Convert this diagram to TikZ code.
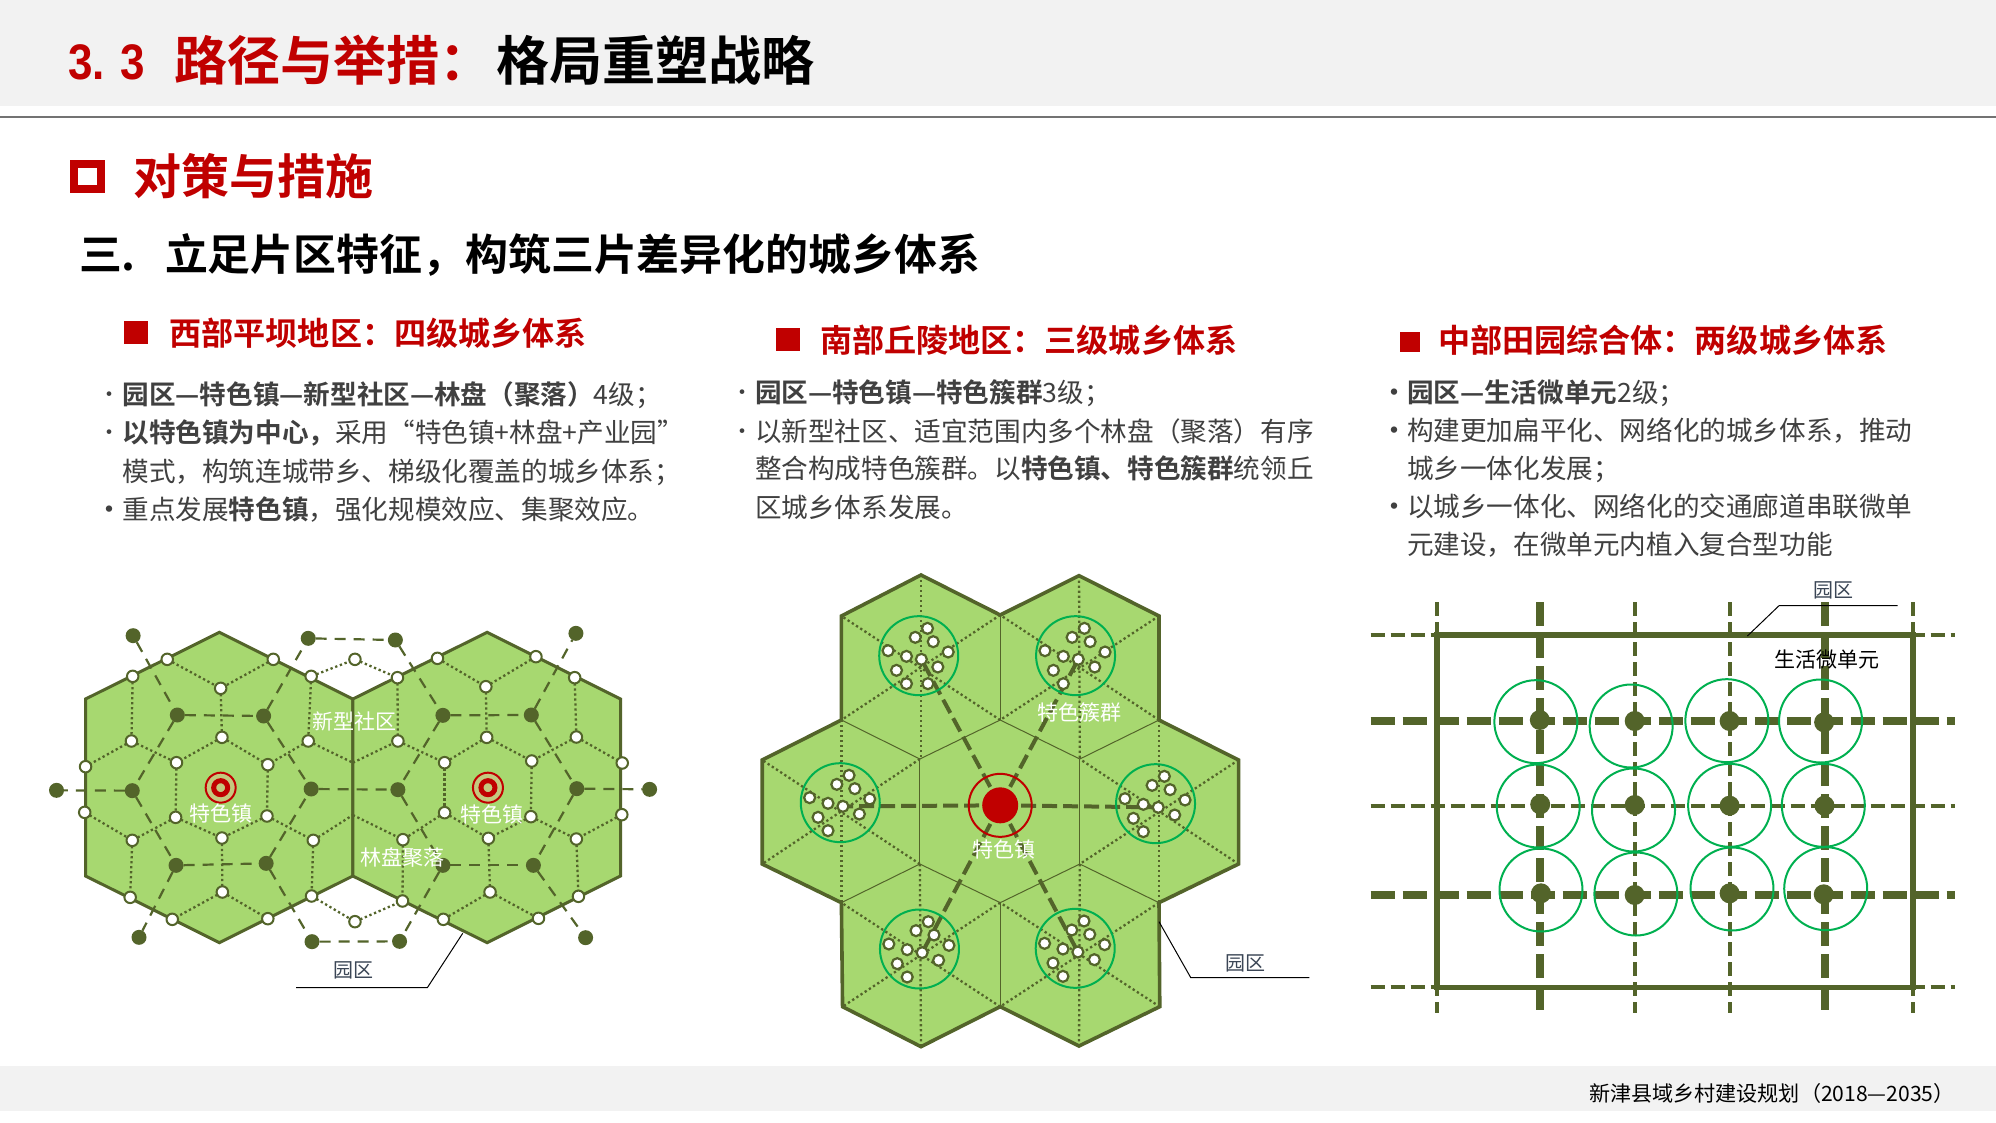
\documentclass[tikz,border=0pt]{standalone}
\usepackage{fontspec}
\setmainfont{Noto Sans CJK SC}[BoldFont=Noto Sans CJK SC Bold]
\newfontfamily\latinb{Liberation Sans}[BoldFont=Liberation Sans Bold,FakeStretch=0.88]
\usetikzlibrary{backgrounds}
\pgfdeclarelayer{hexl}
\pgfdeclarelayer{edgel}
\pgfsetlayers{hexl,edgel,main}
\definecolor{deepred}{HTML}{C00000}
\definecolor{oliveD}{HTML}{53642A}
\definecolor{hexfill}{HTML}{A7D870}
\definecolor{cgreen}{HTML}{00B050}
\definecolor{bandgray}{HTML}{F2F2F2}
\definecolor{bodygray}{HTML}{404040}
\definecolor{labgray}{HTML}{3B4656}
\definecolor{ringfill}{HTML}{C4C97F}
\tikzset{
 ft/.style={font=\fontsize{#1}{#1}\selectfont,text height=.88*#1 pt,text depth=.12*#1 pt,inner sep=0pt,outer sep=0pt},
 bodyt/.style={ft=26.6,anchor=west,text=bodygray},
 heads/.style={ft=32.1,anchor=west,text=deepred},
 bult/.style={ft=22,text=bodygray},
 bulb/.style={ft=30,text=bodygray},
 whitel/.style={ft=21,text=white},
 parkl/.style={ft=20,text=labgray},
 squaren/.style={fill=deepred,inner sep=0pt,outer sep=0pt},
 wn/.style={circle,fill=white,draw=oliveD,line width=2pt,minimum size=11.5pt,inner sep=0pt,outer sep=0pt},
 wm/.style={circle,fill=white,draw=oliveD,line width=2.2pt,minimum size=11pt,inner sep=0pt,outer sep=0pt},
 dn/.style={circle,fill=oliveD,minimum size=15pt,inner sep=0pt,outer sep=0pt},
 dg/.style={circle,fill=oliveD,minimum size=20pt,inner sep=0pt,outer sep=0pt},
 gcirc/.style={circle,draw=cgreen,line width=2pt,inner sep=0pt,outer sep=0pt},
 hexo/.style={draw=oliveD,fill=hexfill,line width=3pt,line join=miter},
 dotl/.style={draw=oliveD,line width=2.3pt,dash pattern=on 2.3pt off 2.7pt},
 dashl/.style={draw=oliveD,line width=2.2pt,dash pattern=on 11pt off 8pt},
 thinl/.style={draw=oliveD,line width=1pt},
 spoke/.style={draw=oliveD,line width=4pt,dash pattern=on 15pt off 6pt},
 roadthin/.style={draw=oliveD,line width=3.8pt,dash pattern=on 14pt off 6pt},
 roadthick/.style={draw=oliveD,line width=8pt,dash pattern=on 24pt off 8pt},
 leader/.style={draw=black,line width=1pt},
}
\begin{document}
\begin{tikzpicture}[x=1pt,y=-1pt]
\useasboundingbox (0,0) rectangle (1996,1122);
\begin{pgfonlayer}{hexl}
\fill[white] (0,0) rectangle (1996,1122);
\fill[bandgray] (0,0) rectangle (1996,106);
\fill[bandgray] (0,1066) rectangle (1996,1111);
\draw[draw=black!55,line width=1.6pt] (0,117) -- (1996,117);
\end{pgfonlayer}
% titles
\node[ft=50,anchor=west,text=deepred] (t33) at (68,60) {\latinb\bfseries 3.\kern4pt\ 3};
\node[ft=53.1,anchor=west,text=deepred] (tred) at (174,60) {\bfseries 路径与举措：};
\node[ft=53.1,anchor=west,text=black] (tblk) at (496,60) {\bfseries 格局重塑战略};
\node[draw=deepred,line width=8pt,minimum width=27pt,minimum height=25pt,inner sep=0pt,outer sep=0pt] (sqsec) at (87.5,176.5) {};
\node[ft=48,anchor=west,text=deepred] (sec) at (133,176) {\bfseries 对策与措施};
\node[ft=42.9,anchor=west,text=black] (san) at (79,254.5) {\bfseries 三.};
\node[ft=42.9,anchor=west,text=black] (sant) at (165,254.5) {\bfseries 立足片区特征，构筑三片差异化的城乡体系};
% column 1
\node[squaren,minimum width=23.6pt,minimum height=23.6pt] (s1) at (136.2,332.5) {};
\node[heads] (h1) at (169.5,333.5) {\bfseries 西部平坝地区：四级城乡体系};
\node[bult] (b11) at (109,394) {•};
\node[bult] (b12) at (109,432) {•};
\node[bulb] (b13) at (109,509) {•};
\node[bodyt] (l11) at (122.5,394) {\bfseries 园区—特色镇—新型社区—林盘（聚落）\mdseries 4级；};
\node[bodyt] (l12) at (122.5,432) {\bfseries 以特色镇为中心，\mdseries 采用“特色镇+林盘+产业园”};
\node[bodyt] (l13) at (122.5,471) {模式，构筑连城带乡、梯级化覆盖的城乡体系；};
\node[bodyt] (l14) at (122.5,509) {重点发展\bfseries 特色镇\mdseries ，强化规模效应、集聚效应。};
% column 2
\node[squaren,minimum width=24pt,minimum height=23.6pt] (s2) at (788,339.5) {};
\node[heads] (h2) at (820,340) {\bfseries 南部丘陵地区：三级城乡体系};
\node[bult] (b21) at (742,392) {•};
\node[bult] (b22) at (742,431) {•};
\node[bodyt] (l21) at (755,392) {\bfseries 园区—特色镇—特色簇群\mdseries 3级；};
\node[bodyt] (l22) at (755,431) {以新型社区、适宜范围内多个林盘（聚落）有序};
\node[bodyt] (l23) at (755,468) {整合构成特色簇群。以\bfseries 特色镇、特色簇群\mdseries 统领丘};
\node[bodyt] (l24) at (755,507) {区城乡体系发展。};
% column 3
\node[squaren,minimum width=20pt,minimum height=20pt] (s3) at (1410,341.7) {};
\node[heads] (h3) at (1438,340) {\bfseries 中部田园综合体：两级城乡体系};
\node[bulb] (b31) at (1394,392) {•};
\node[bulb] (b32) at (1394,430) {•};
\node[bulb] (b33) at (1394,506) {•};
\node[bodyt] (l31) at (1407,392) {\bfseries 园区—生活微单元\mdseries 2级；};
\node[bodyt] (l32) at (1407,430) {构建更加扁平化、网络化的城乡体系，推动};
\node[bodyt] (l33) at (1407,468) {城乡一体化发展；};
\node[bodyt] (l34) at (1407,506) {以城乡一体化、网络化的交通廊道串联微单};
\node[bodyt] (l35) at (1407,544) {元建设，在微单元内植入复合型功能};
% footer
\node[ft=21.1,anchor=west,text=black] (foot) at (1589,1093) {新津县域乡村建设规划（2018—2035）};

% ---------- panel 1
\begin{scope}[xshift=30pt,yshift=-600pt,x=0.42092pt,y=-0.33333pt]
\begin{pgfonlayer}{hexl}
\path[hexo] (450,97) -- (767,297) -- (767,828) -- (450,1028) -- (132,828) -- (132,297) -- cycle;
\path[hexo] (1086,97) -- (1403,297) -- (1403,828) -- (1086,1028) -- (767,828) -- (767,297) -- cycle;
\end{pgfonlayer}
\foreach \n/\x/\y in {a1/326/178,a2/578/178,a3/244/229,a4/668/229,a5/453/265,a6/241/423,a7/456/412,a8/661/423,a9/132/500,a10/348/488,a11/565/494,a12/130/637,a13/346/652,a14/563/648,a15/243/721,a16/456/714,a17/673/721,a18/238/892,a19/457/876,a20/669/888,a21/338/958,a22/565/956,b1/968/175,b2/1202/170,b3/873/233,b4/1294/233,b5/1083/260,b6/874/423,b7/1085/412,b8/1298/411,b9/1407/489,b10/985/488,b11/1192/483,b12/1406/644,b13/985/638,b14/1190/650,b15/886/719,b16/1089/715,b17/1298/717,b18/885/903,b19/1093/876,b20/1303/889,b21/982/958,b22/1208/955,t1/772/178,t2/772/965}
  \node[wn] (\n) at (\x,\y) {};
\foreach \n/\x/\y in {d1/245/107,d2/661/115,d3/868/120,d4/1297/100,d5/350/345,d6/555/348,d7/981/346,d8/1191/345,d9/63/571,d10/243/572,d11/668/567,d12/874/569,d13/1299/566,d14/1472/568,d15/347/796,d16/561/790,d17/981/796,d18/1196/796,d19/259/1012,d20/670/1025,d21/878/1024,d22/1320/1013}
  \node[dn] (\n) at (\x,\y) {};
\coordinate (m1) at (767,488);
\coordinate (m2) at (767,645);
\begin{pgfonlayer}{edgel}
\foreach \p/\q in {a1/a5,a2/a5,a5/a7,a3/a6,a4/a8,a6/a9,a6/a10,a7/a10,a7/a11,a8/a11,a10/a13,a11/a14,a12/a15,a13/a15,a13/a16,a14/a16,a14/a17,a15/a18,a16/a19,a17/a20,a19/a21,a19/a22,a8/m1,m1/b6,a17/m2,m2/b15,a4/t1,t1/b3,a20/t2,t2/b18,b1/b5,b2/b5,b5/b7,b3/b6,b4/b8,b6/b10,b7/b10,b7/b11,b8/b11,b8/b9,b10/b13,b11/b14,b12/b17,b13/b15,b13/b16,b14/b16,b14/b17,b15/b18,b16/b19,b17/b20,b19/b21,b19/b22}
  \draw[dotl] (\p) -- (\q);
\foreach \p/\q in {d1/d5,d5/d6,d5/d10,d10/d9,d10/d15,d15/d16,d15/d19,d16/d11,d16/d20,d6/d2,d6/d11,d2/d3,d3/d7,d7/d8,d7/d12,d11/d12,d12/d17,d17/d18,d17/d21,d20/d21,d8/d4,d8/d13,d13/d14,d13/d18,d18/d22}
  \draw[dashl] (\p) -- (\q);
\end{pgfonlayer}
\foreach \i/\x in {A/453,B/1088}{
  \node[circle,draw=deepred,line width=2pt,fill=ringfill,minimum size=30pt,inner sep=0pt] (bo\i) at (\x,563) {};
  \node[circle,draw=deepred,line width=5pt,fill=ringfill,minimum size=14pt,inner sep=0pt] (bi\i) at (\x,563) {};
}
\node[whitel] (lz1) at (453,640) {特色镇};
\node[whitel] (lz2) at (1097,645) {特色镇};
\node[whitel] (lx) at (772,365) {新型社区};
\node[whitel] (ll) at (885,773) {林盘聚落};
\node[parkl] (lp1) at (768,1110) {园区};
\coordinate (p1a) at (1028,1000);
\coordinate (p1b) at (944,1163);
\coordinate (p1c) at (632,1163);
\draw[leader] (p1a) -- (p1b) -- (p1c);
\end{scope}

% ---------- panel 2
\begin{scope}[xshift=740pt,yshift=-560pt,x=0.38265pt,y=-0.33333pt]
\begin{pgfonlayer}{hexl}
\fill[hexfill] (473,45) -- (680,165) -- (886,47) -- (1095,168) -- (1095,480) -- (1303,600) -- (1303,912) -- (1095,1028) -- (1097,1340) -- (886,1458) -- (680,1340) -- (473,1460) -- (268,1340) -- (265,1028) -- (58,912) -- (58,600) -- (265,480) -- (265,168) -- cycle;
\foreach \a/\b/\c/\d in {473/45/473/597,680/165/265/480,680/480/265/168,886/47/888/597,1095/168/680/480,1095/480/680/165,1095/480/1095/1028,1303/600/888/912,1303/912/888/597,265/480/265/1028,470/597/58/912,470/912/58/600,470/912/473/1460,680/1028/268/1340,680/1340/265/1028,888/912/886/1458,1095/1028/680/1340,1097/1340/680/1028}
  \draw[dotl] (\a,\b) -- (\c,\d);
\foreach \a/\b/\c/\d in {680/165/680/480,680/480/470/597,680/480/888/597,470/597/265/480,888/597/1095/480,470/597/470/912,888/597/888/912,470/912/265/1028,888/912/1095/1028,470/912/680/1028,888/912/680/1028,680/1028/680/1340}
  \draw[thinl] (\a,\b) -- (\c,\d);
\draw[draw=oliveD,line width=3.6pt,line join=miter] (473,45) -- (680,165) -- (886,47) -- (1095,168) -- (1095,480) -- (1303,600) -- (1303,912) -- (1095,1028) -- (1097,1340) -- (886,1458) -- (680,1340) -- (473,1460) -- (268,1340) -- (265,1028) -- (58,912) -- (58,600) -- (265,480) -- (265,168) -- cycle;
\end{pgfonlayer}
\node[circle,fill=deepred,minimum size=36pt,inner sep=0pt] (cc) at (680,736) {};
\node[circle,draw=deepred,line width=2pt,minimum size=63pt,inner sep=0pt] (cr) at (680,736) {};
\foreach \c/\cx/\cy in {A/467/287,B/877/287,C/262/728,D/1086/731,E/469/1167,F/876/1165}{
  \node[gcirc,minimum size=79pt] (g\c) at (\cx,\cy) {};
  \foreach \i/\dx/\dy in {1/23/-82,2/-9/-55,3/38/-42,4/-80/-15,5/77/-11,6/-32/2,7/7/11,8/50/34,9/-58/44,10/-32/84}
    \node[wm] (n\c\i) at ({\cx+\dx},{\cy+\dy}) {};
}
\node[wm] (nA11) at (491,371) {};
\begin{pgfonlayer}{edgel}
\foreach \q in {A,B,C,D,E,F}
  \draw[spoke] (cc.center) -- (n\q7);
\end{pgfonlayer}
\node[whitel] (l2a) at (888,458) {特色簇群};
\node[whitel] (l2b) at (690,870) {特色镇};
\node[parkl] (l2c) at (1320,1208) {园区};
\coordinate (p2a) at (1095,1085);
\coordinate (p2b) at (1178,1253);
\coordinate (p2c) at (1488,1253);
\draw[leader] (p2a) -- (p2b) -- (p2c);
\end{scope}

% ---------- panel 3
\begin{scope}[xshift=1350pt,yshift=-570pt,x=0.39541pt,y=-0.33333pt]
\foreach \n/\x in {va/220,vb/720,vc/960,vd/1424}{
  \coordinate (\n t) at (\x,97); \coordinate (\n b) at (\x,1330);
  \draw[roadthin] (\n t) -- (\n b);
}
\foreach \n/\x in {ve/480,vf/1200}{
  \coordinate (\n t) at (\x,97); \coordinate (\n b) at (\x,1320);
  \draw[roadthick] (\n t) -- (\n b);
}
\foreach \n/\y in {ha/195,hb/708,hc/1250}{
  \coordinate (\n l) at (52,\y); \coordinate (\n r) at (1530,\y);
  \draw[roadthin] (\n l) -- (\n r);
}
\foreach \n/\y in {hd/453,he/975}{
  \coordinate (\n l) at (52,\y); \coordinate (\n r) at (1530,\y);
  \draw[roadthick] (\n l) -- (\n r);
}
\coordinate (ra) at (220,195);
\coordinate (rb) at (1424,1252);
\draw[draw=oliveD,line width=5.5pt] (ra) rectangle (rb);
\foreach \n/\x/\y in {a/480/450,b/720/453,c/960/453,d/1199/457,e/481/703,f/720/705,g/960/707,h/1200/707,i/483/970,j/720/975,k/960/970,l/1198/973}
  \node[dg] (dot\n) at (\x,\y) {};
\foreach \n/\x/\y in {a/470/455,b/711/468,c/953/452,d/1190/453,e/476/708,f/717/720,g/960/706,h/1197/706,i/483/960,j/723/972,k/966/957,l/1203/956}
  \node[gcirc,minimum size=83pt] (gr\n) at (\x,\y) {};
\node[ft=21,text=black] (l3a) at (1205,270) {生活微单元};
\node[parkl] (l3b) at (1222,60) {园区};
\coordinate (p3a) at (1005,198);
\coordinate (p3b) at (1085,107);
\coordinate (p3c) at (1385,107);
\draw[leader] (p3a) -- (p3b) -- (p3c);
\end{scope}
\end{tikzpicture}
\end{document}
